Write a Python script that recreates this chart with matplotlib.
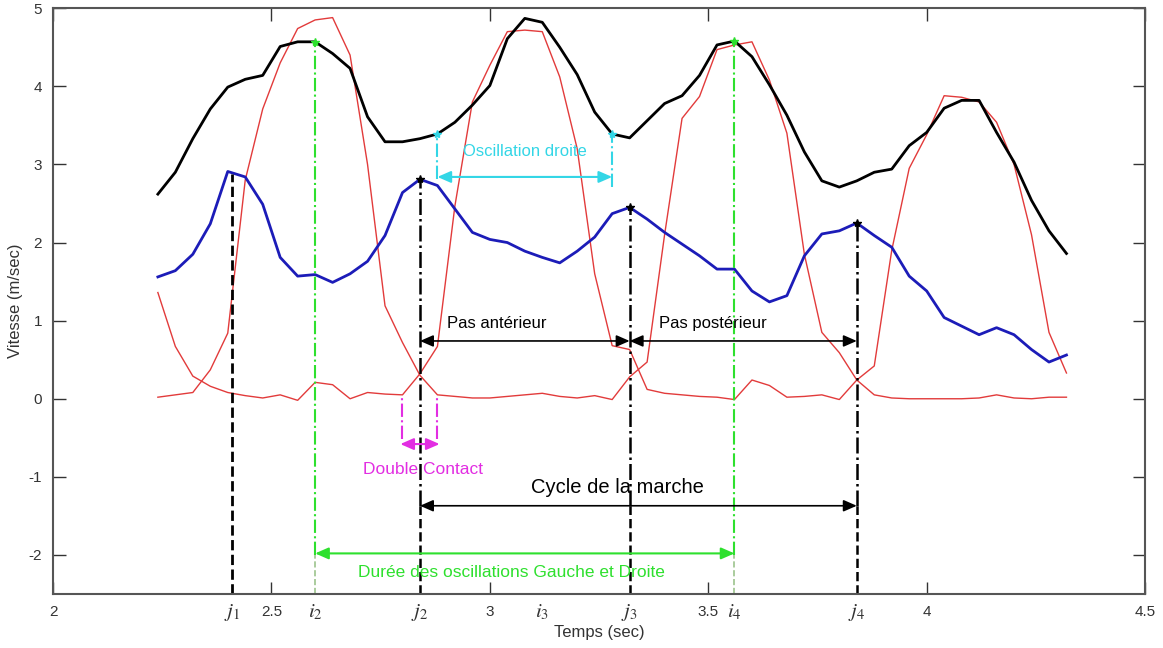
import numpy as np
import matplotlib.pyplot as plt

plt.rcParams['font.family'] = ['Liberation Sans', 'DejaVu Sans']
plt.rcParams['mathtext.fontset'] = 'stix'
plt.rcParams['axes.unicode_minus'] = False

# temps d'echantillonnage (s)
temps = [2.24, 2.28, 2.32, 2.36, 2.40, 2.44, 2.48, 2.52, 2.56, 2.60,
         2.64, 2.68, 2.72, 2.76, 2.80, 2.84, 2.88, 2.92, 2.96, 3.00,
         3.04, 3.08, 3.12, 3.16, 3.20, 3.24, 3.28, 3.32, 3.36, 3.40,
         3.44, 3.48, 3.52, 3.56, 3.60, 3.64, 3.68, 3.72, 3.76, 3.80,
         3.84, 3.88, 3.92, 3.96, 4.00, 4.04, 4.08, 4.12, 4.16, 4.20,
         4.24, 4.28, 4.32]

# courbe noire
courbe_noire = [2.62, 2.90, 3.33, 3.71, 3.99, 4.09, 4.14, 4.51, 4.57, 4.57,
                4.42, 4.23, 3.61, 3.29, 3.29, 3.33, 3.39, 3.54, 3.76, 4.01,
                4.61, 4.87, 4.82, 4.50, 4.15, 3.67, 3.39, 3.34, 3.56, 3.78,
                3.88, 4.14, 4.53, 4.58, 4.38, 4.02, 3.63, 3.16, 2.79, 2.71,
                2.79, 2.90, 2.94, 3.24, 3.41, 3.72, 3.82, 3.82, 3.41, 3.03,
                2.54, 2.15, 1.86]

# courbe bleue
courbe_bleue = [1.56, 1.64, 1.85, 2.24, 2.91, 2.84, 2.49, 1.81, 1.57, 1.59,
                1.49, 1.60, 1.76, 2.09, 2.64, 2.81, 2.73, 2.43, 2.13, 2.04,
                2.00, 1.89, 1.81, 1.74, 1.89, 2.07, 2.37, 2.45, 2.30, 2.13,
                1.98, 1.83, 1.66, 1.66, 1.38, 1.24, 1.32, 1.83, 2.11, 2.15,
                2.25, 2.09, 1.94, 1.57, 1.38, 1.04, 0.93, 0.82, 0.91, 0.82,
                0.63, 0.47, 0.56]

# courbes rouges (deux pieds)
pied_a = [1.36, 0.67, 0.29, 0.16, 0.08, 0.04, 0.01, 0.05, -0.02, 0.21,
          0.18, 0.00, 0.08, 0.06, 0.05, 0.32, 0.67, 2.47, 3.80, 4.27,
          4.70, 4.72, 4.70, 4.12, 3.20, 1.60, 0.68, 0.63, 0.12, 0.07,
          0.05, 0.03, 0.02, -0.01, 0.24, 0.17, 0.02, 0.03, 0.05, -0.01,
          0.24, 0.42, 1.90, 2.95, 3.38, 3.88, 3.86, 3.80, 3.54, 3.00,
          2.10, 0.85, 0.33]

pied_b = [0.02, 0.05, 0.08, 0.37, 0.84, 2.80, 3.71, 4.30, 4.74, 4.85,
          4.88, 4.40, 3.00, 1.19, 0.72, 0.30, 0.05, 0.03, 0.01, 0.01,
          0.03, 0.05, 0.07, 0.03, 0.01, 0.04, -0.01, 0.28, 0.47, 2.10,
          3.59, 3.87, 4.47, 4.53, 4.57, 4.08, 3.40, 1.85, 0.85, 0.59,
          0.24, 0.05, 0.01, 0.00, 0.00, 0.00, 0.00, 0.01, 0.05, 0.01,
          0.00, 0.02, 0.02]

# evenements
evt_labels = ['$j_1$', '$i_2$', '$j_2$', '$i_3$', '$j_3$', '$i_4$', '$j_4$']
evt_temps = [2.41, 2.60, 2.84, 3.12, 3.32, 3.56, 3.84]
xticks = [2, 2.5, 3, 3.5, 4, 4.5]
yticks = [-2, -1, 0, 1, 2, 3, 4, 5]

rouge = '#e23b3b'
bleu = '#1c1cb8'
vert = '#2ee02e'
cyan = '#33d6e6'
magenta = '#e22ee2'

t = np.array(temps)
noire = np.array(courbe_noire)
bleue = np.array(courbe_bleue)

fig = plt.figure(figsize=(11.63, 6.48), dpi=100)
ax = fig.add_axes([0.0456, 0.0833, 0.939, 0.904])

ax.plot(t, pied_a, color=rouge, lw=1)
ax.plot(t, pied_b, color=rouge, lw=1)
ax.plot(t, noire, color='k', lw=2)
ax.plot(t, bleue, color=bleu, lw=2)

ybas = -2.5
# j1
ax.plot([evt_temps[0]] * 2, [ybas, 2.88], 'k--', lw=2)
# i2, i4 (vert)
for k in [9, 33]:
    ax.plot([t[k]] * 2, [-2.0, noire[k]], color=vert, ls='-.', lw=1.5)
    ax.plot([t[k]] * 2, [ybas, -2.0], color='#9cc48c', ls='--', lw=1.2)
    ax.plot(t[k], noire[k], marker='*', color=vert, ms=6)
# j2, j3, j4 (noir)
for k in [15, 27, 40]:
    ax.plot([t[k]] * 2, [ybas, -1.37], 'k--', lw=1.8)
    ax.plot([t[k]] * 2, [-1.37, bleue[k]], 'k-.', lw=1.8)
    ax.plot(t[k], bleue[k], marker='*', color='k', ms=6)

# oscillation droite (cyan)
for k, ybot in [(16, 2.81), (26, 2.71)]:
    ax.plot([t[k]] * 2, [ybot, noire[k]], color=cyan, ls='-.', lw=1.5)
    ax.plot(t[k], noire[k], marker='*', color=cyan, ms=6)

# double contact (magenta)
for k in [14, 16]:
    ax.plot([t[k]] * 2, [-0.52, 0.05], color=magenta, ls='-.', lw=1.5)


def fleche(x1, x2, y, couleur, lw=1.2):
    ax.annotate('', xy=(x2, y), xytext=(x1, y),
                arrowprops=dict(arrowstyle='<|-|>,head_length=0.8,head_width=0.35',
                                color=couleur, lw=lw, shrinkA=0, shrinkB=0,
                                mutation_scale=10))


fleche(t[16], t[26], 2.84, cyan, 1.5)
fleche(2.795, 2.885, -0.58, magenta, 1.5)
fleche(t[15], t[27], 0.74, 'k')
fleche(t[27], t[40], 0.74, 'k')
fleche(t[15], t[40], -1.37, 'k')
fleche(t[9], t[33], -1.98, vert, 1.5)

ax.text(3.08, 3.17, 'Oscillation droite', color=cyan, fontsize=12,
        ha='center', va='center')
ax.text(3.016, 0.96, 'Pas antérieur', color='k', fontsize=12,
        ha='center', va='center')
ax.text(3.511, 0.96, 'Pas postérieur', color='k', fontsize=12,
        ha='center', va='center')
ax.text(2.847, -0.91, 'Double Contact', color=magenta, fontsize=12.5,
        ha='center', va='center')
ax.text(3.293, -1.13, 'Cycle de la marche', color='k', fontsize=14.5,
        ha='center', va='center')
ax.text(3.05, -2.23, 'Durée des oscillations Gauche et Droite', color=vert,
        fontsize=12.5, ha='center', va='center')

ax.set_xlim(2, 4.5)
ax.set_ylim(-2.5, 5)
ax.set_xticks(xticks, labels=['2', '2.5', '3', '3.5', '4', '4.5'])
ax.set_xticks(evt_temps, labels=evt_labels, minor=True)
ax.set_yticks(yticks)
ax.tick_params(which='major', direction='in', length=9, width=1,
               top=True, right=True, labelsize=11, colors='#333333', pad=8)
ax.tick_params(which='minor', axis='x', length=0, labelsize=15,
               colors='#333333', pad=6)
for s in ax.spines.values():
    s.set_color('#555555')
    s.set_linewidth(1.5)

ax.set_xlabel('Temps (sec)', fontsize=12, color='#333333', labelpad=1)
ax.set_ylabel('Vitesse (m/sec)', fontsize=12, color='#333333', labelpad=4)

fig.savefig('out.png', dpi=100)
